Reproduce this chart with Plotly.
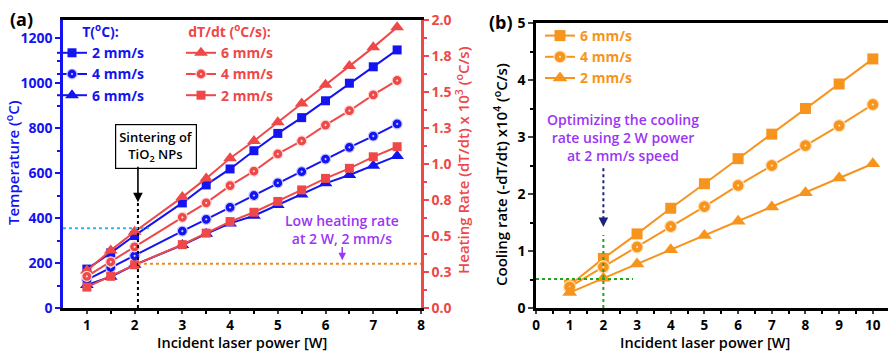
import plotly.graph_objects as go

# ---------------- data ----------------
power_a = [1, 1.5, 2, 3, 3.5, 4, 4.5, 5, 5.5, 6, 6.5, 7, 7.5]
temp_2mm = [173, 245, 322, 467, 547, 618, 699, 776, 846, 921, 999, 1072, 1147]
temp_4mm = [125, 180, 232, 342, 394, 447, 500, 556, 606, 662, 714, 764, 818]
temp_6mm = [102, 139, 192, 280, 330, 376, 410, 458, 505, 554, 591, 632, 676]
rate_6mm = [0.26, 0.40, 0.53, 0.77, 0.90, 1.04, 1.16, 1.29, 1.42, 1.55, 1.68, 1.81, 1.95]
rate_4mm = [0.22, 0.32, 0.425, 0.63, 0.73, 0.85, 0.95, 1.07, 1.16, 1.27, 1.37, 1.48, 1.58]
rate_2mm = [0.145, 0.22, 0.30, 0.44, 0.52, 0.60, 0.665, 0.74, 0.82, 0.90, 0.97, 1.05, 1.12]

power_b = [1, 2, 3, 4, 5, 6, 7, 8, 9, 10]
cool_6mm = [0.40, 0.87, 1.30, 1.75, 2.18, 2.62, 3.05, 3.50, 3.93, 4.37]
cool_4mm = [0.37, 0.72, 1.07, 1.43, 1.78, 2.15, 2.50, 2.85, 3.20, 3.57]
cool_2mm = [0.27, 0.52, 0.77, 1.02, 1.27, 1.52, 1.77, 2.02, 2.28, 2.53]

rate_ticks = [0, 0.25, 0.5, 0.75, 1.0, 1.25, 1.5, 1.75, 2.0]
rate_ticktext = ["0.0", "0.3", "0.5", "0.8", "1.0", "1.3", "1.5", "1.8", "2.0"]

# ---------------- styles ----------------
FONT = "Open Sans"
BLUE = "#1414F0"
RED = "#EE4848"
ORANGE = "#F7941D"
PURPLE = "#9B35F5"

W, H = 888, 351
MB = 43
PH = H - MB


def xd(px0, px1):
    return [px0 / W, px1 / W]


fig = go.Figure()

def line_trace(x, y, name, color, symbol, xa, ya, legend, size=9, light=None):
    mk = dict(symbol=symbol, size=size, color=color, line=dict(width=0, color=color))
    if light is not None:
        mk["line"] = dict(width=1.2, color=light)
    fig.add_trace(go.Scatter(
        x=x, y=y, name=name, mode="lines+markers",
        line=dict(color=color, width=2), marker=mk,
        xaxis=xa, yaxis=ya, legend=legend))

# panel a - temperature (blue)
line_trace(power_a, temp_2mm, "2 mm/s", BLUE, "square", "x", "y", "legend", 9)
line_trace(power_a, temp_4mm, "4 mm/s", BLUE, "circle-dot", "x", "y", "legend", 10, "#c8c8ff")
line_trace(power_a, temp_6mm, "6 mm/s", BLUE, "triangle-up", "x", "y", "legend", 12)
# panel a - heating rate (red)
line_trace(power_a, rate_6mm, "6 mm/s", RED, "triangle-up", "x", "y2", "legend2", 12)
line_trace(power_a, rate_4mm, "4 mm/s", RED, "circle-dot", "x", "y2", "legend2", 10, "#ffd8d8")
line_trace(power_a, rate_2mm, "2 mm/s", RED, "square", "x", "y2", "legend2", 9)
# panel b - cooling rate (orange)
line_trace(power_b, cool_6mm, "6 mm/s", ORANGE, "square", "x2", "y3", "legend3", 11)
line_trace(power_b, cool_4mm, "4 mm/s", ORANGE, "circle-dot", "x2", "y3", "legend3", 12, "#ffe2bd")
line_trace(power_b, cool_2mm, "2 mm/s", ORANGE, "triangle-up", "x2", "y3", "legend3", 13)

tickfont = dict(family=FONT, size=14, weight=700)
xtickfont = dict(family=FONT, size=13.5, weight=700)

fig.update_layout(
    width=W, height=H,
    margin=dict(l=0, r=0, t=0, b=MB),
    paper_bgcolor="white", plot_bgcolor="white",
    font=dict(family=FONT, size=14, color="black"),
    xaxis=dict(
        domain=xd(63, 421), range=[0.5, 8], anchor="y",
        tickvals=[1, 2, 3, 4, 5, 6, 7, 8], ticks="outside", ticklen=3, tickwidth=2,
        minor=dict(tickvals=[1.5, 2.5, 3.5, 4.5, 5.5, 6.5, 7.5], ticks="outside", ticklen=3, tickwidth=1.5, tickcolor="black"),
        showline=True, linecolor="black", linewidth=2.5, mirror=True,
        showgrid=False, zeroline=False, tickfont=xtickfont, automargin=False,
    ),
    yaxis=dict(
        domain=[0, 1 - 20 / PH], range=[0, 1280], anchor="x",
        tickvals=[0, 200, 400, 600, 800, 1000, 1200], ticks="outside", ticklen=5, tickwidth=2,
        tickcolor=BLUE,
        minor=dict(tickvals=[100, 300, 500, 700, 900, 1100], ticks="outside", ticklen=3, tickwidth=1.5, tickcolor=BLUE),
        showline=True, linecolor=BLUE, linewidth=2.5,
        showgrid=False, zeroline=False, tickfont=dict(tickfont, color=BLUE), automargin=False,
    ),
    yaxis2=dict(
        domain=[0, 1 - 20 / PH], range=[0, 2.0], anchor="x", overlaying="y", side="right",
        tickvals=rate_ticks, ticktext=rate_ticktext, ticks="outside", ticklen=5, tickwidth=2,
        tickcolor=RED,
        minor=dict(tickvals=[0.125 + 0.25 * i for i in range(8)], ticks="outside", ticklen=3, tickwidth=1.5, tickcolor=RED),
        showline=True, linecolor=RED, linewidth=2.5,
        showgrid=False, zeroline=False, tickfont=dict(tickfont, color=RED), automargin=False,
    ),
    xaxis2=dict(
        domain=xd(536, 888), range=[0, 10.45], anchor="y3",
        tickvals=list(range(0, 11)), ticks="outside", ticklen=3, tickwidth=2,
        minor=dict(tickvals=[i + 0.5 for i in range(10)], ticks="outside", ticklen=3, tickwidth=1.5, tickcolor="black"),
        showline=True, linecolor="black", linewidth=2.5, mirror=True,
        showgrid=False, zeroline=False, tickfont=xtickfont, automargin=False,
    ),
    yaxis3=dict(
        domain=[0, 1 - 23 / PH], range=[0, 5], anchor="x2",
        tickvals=[0, 1, 2, 3, 4, 5], ticks="outside", ticklen=5, tickwidth=2,
        minor=dict(tickvals=[0.5, 1.5, 2.5, 3.5, 4.5], ticks="outside", ticklen=3, tickwidth=1.5, tickcolor="black"),
        showline=True, linecolor="black", linewidth=2.5,
        showgrid=False, zeroline=False, tickfont=tickfont, automargin=False,
    ),
    legend=dict(
        x=52 / W, y=1 - 19 / PH, xanchor="left", yanchor="top",
        bgcolor="rgba(0,0,0,0)", font=dict(family=FONT, size=14, color=BLUE, weight=700),
        title=dict(text="T(<sup>o</sup>C):", side="top center", font=dict(family=FONT, size=14, color=BLUE, weight=700)),
        tracegroupgap=0, itemwidth=30,
    ),
    legend2=dict(
        x=181 / W, y=1 - 19 / PH, xanchor="left", yanchor="top",
        bgcolor="rgba(0,0,0,0)", font=dict(family=FONT, size=14, color=RED, weight=700),
        title=dict(text="dT/dt (<sup>o</sup>C/s):", side="top center", font=dict(family=FONT, size=14, color=RED, weight=700)),
        tracegroupgap=0, itemwidth=30,
    ),
    legend3=dict(
        x=540 / W, y=1 - 20 / PH, xanchor="left", yanchor="top",
        bgcolor="rgba(0,0,0,0)", font=dict(family=FONT, size=14, color=ORANGE, weight=700),
        tracegroupgap=0, itemwidth=30,
    ),
)

shapes = []
# panel a guides
shapes.append(dict(type="line", xref="x", yref="y", x0=2.07, x1=2.07, y0=0, y1=470,
                   line=dict(color="black", width=2, dash="dot")))
shapes.append(dict(type="line", xref="x", yref="y", x0=0.5, x1=2.3, y0=355, y1=355,
                   line=dict(color="#33B5F0", width=2, dash="dot")))
shapes.append(dict(type="line", xref="x", yref="y", x0=2.07, x1=8, y0=197, y1=197,
                   line=dict(color="#E8892A", width=2, dash="dot")))
# panel b guides
shapes.append(dict(type="line", xref="x2", yref="y3", x0=2, x1=2, y0=0, y1=1.28,
                   line=dict(color="#1FA51F", width=2, dash="dot")))
shapes.append(dict(type="line", xref="x2", yref="y3", x0=0, x1=2.88, y0=0.51, y1=0.51,
                   line=dict(color="#1FA51F", width=2, dash="dot")))
shapes.append(dict(type="line", xref="x2", yref="y3", x0=2, x1=2, y0=2.45, y1=1.55,
                   line=dict(color="#1A237E", width=2, dash="dot")))
fig.update_layout(shapes=shapes)


def title_ann(text, xpx, ypx, color, angle=0, size=15):
    return dict(text=text, x=xpx / W, y=1 - ypx / PH, xref="paper", yref="paper",
                xanchor="center", yanchor="middle", showarrow=False, textangle=angle,
                font=dict(family=FONT, size=size, color=color, weight=600))


annotations = [
    dict(text="<b>(a)</b>", x=8 / W, y=1, xref="paper", yref="paper", xanchor="left", yanchor="top",
         yshift=-5, showarrow=False, font=dict(family=FONT, size=18, color="black")),
    dict(text="<b>(b)</b>", x=487 / W, y=1, xref="paper", yref="paper", xanchor="left", yanchor="top",
         yshift=-8, showarrow=False, font=dict(family=FONT, size=18, color="black")),
    dict(text="Sintering of<br>TiO<sub>2</sub> NPs", x=2.45, y=720, xref="x", yref="y", showarrow=False,
         bordercolor="black", borderwidth=1.2, bgcolor="white", borderpad=3,
         font=dict(family=FONT, size=13, color="black", weight=600)),
    dict(text="", x=2.07, y=470, ax=2.07, ay=635, xref="x", yref="y", axref="x", ayref="y",
         showarrow=True, arrowhead=2, arrowsize=1.2, arrowwidth=1.6, arrowcolor="black"),
    dict(text="Low heating rate<br>at 2 W, 2 mm/s", x=6.34, y=350, xref="x", yref="y", showarrow=False,
         font=dict(family=FONT, size=14, color=PURPLE, weight=600)),
    dict(text="", x=6.35, y=212, ax=6.35, ay=278, xref="x", yref="y", axref="x", ayref="y",
         showarrow=True, arrowhead=2, arrowsize=1, arrowwidth=1.5, arrowcolor=PURPLE),
    dict(text="Optimizing the cooling<br>rate using 2 W power<br>at 2 mm/s speed", x=2.58, y=3.0,
         xref="x2", yref="y3", showarrow=False, font=dict(family=FONT, size=14, color=PURPLE, weight=600)),
    dict(text="", x=2, y=1.42, ax=2, ay=1.6, xref="x2", yref="y3", axref="x2", ayref="y3",
         showarrow=True, arrowhead=2, arrowsize=1.2, arrowwidth=1.6, arrowcolor="#1A237E"),
    # axis titles
    title_ann("Incident laser power [W]", 242, 342, "black", 0, 14.5),
    title_ann("Incident laser power [W]", 705, 342, "black", 0, 14.5),
    title_ann("Temperature (<sup>o</sup>C)", 12, 163, BLUE, -90),
    title_ann("Heating Rate (dT/dt) x 10<sup>3</sup> (<sup>o</sup>C/s)", 463, 160, RED, -90),
    title_ann("Cooling rate (-dT/dt) x10<sup>4</sup> (<sup>o</sup>C/s)", 500, 175, "black", -90),
]
fig.update_layout(annotations=annotations)

fig.write_html("out.html")
